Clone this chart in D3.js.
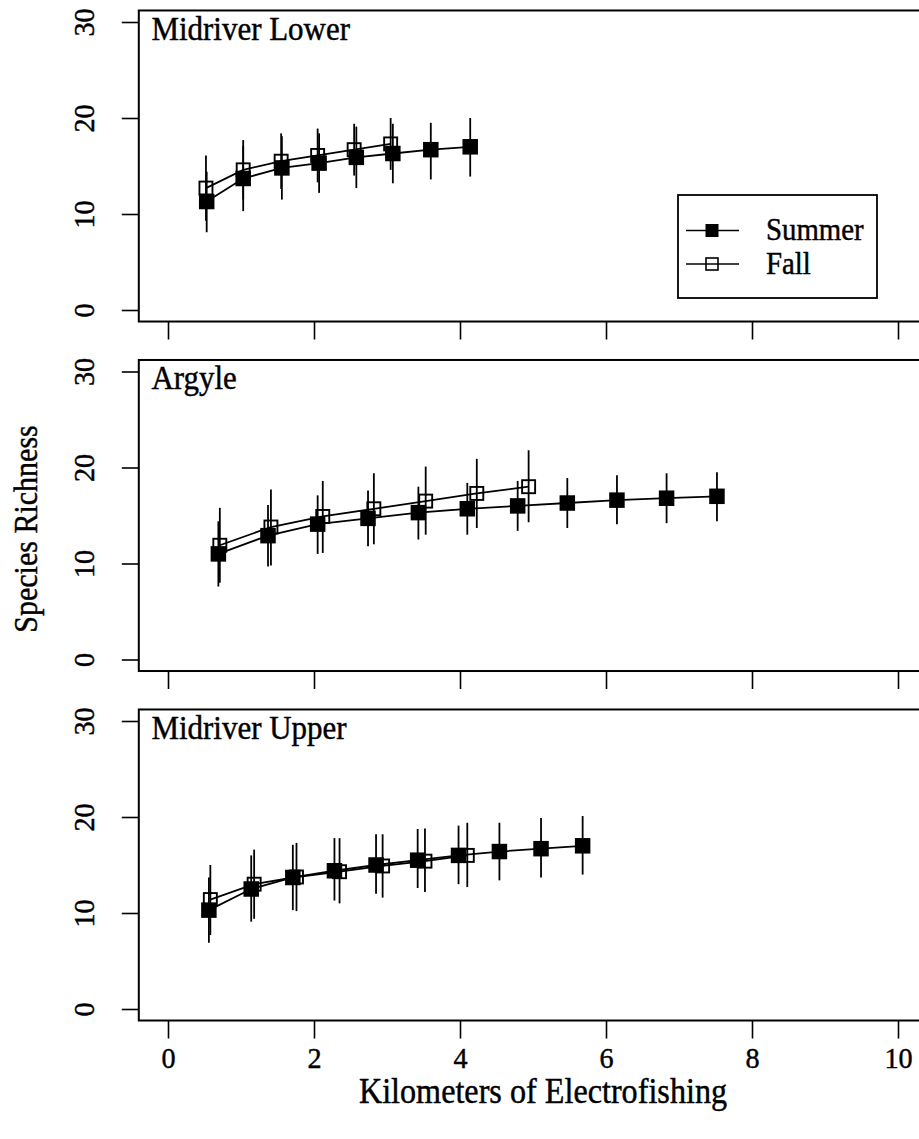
<!DOCTYPE html>
<html><head><meta charset="utf-8">
<script src="https://cdn.jsdelivr.net/npm/d3@7"></script>
<style>html,body{margin:0;padding:0;background:#fff;}svg{display:block;} text{stroke:#000;stroke-width:0.45px;}</style>
</head><body>
<svg id="chart" width="919" height="1139"></svg>
<script>
const xTicks = [0, 2, 4, 6, 8, 10];
const yTicks = [0, 10, 20, 30];
const panelNames = ["Midriver Lower", "Argyle", "Midriver Upper"];
const seriesNames = ["Summer", "Fall"];

// Midriver Lower
const summerX1 = [0.53, 1.03, 1.56, 2.07, 2.58, 3.08, 3.60, 4.14];
const summerY1 = [11.3, 13.7, 14.8, 15.3, 15.9, 16.3, 16.7, 17.0];
const summerLo1 = [8.1, 10.3, 11.5, 12.2, 12.7, 13.2, 13.6, 13.9];
const summerHi1 = [14.4, 17.1, 18.1, 18.4, 19.1, 19.4, 19.5, 20.0];
const fallX1 = [0.52, 1.03, 1.55, 2.05, 2.55, 3.05];
const fallY1 = [12.7, 14.6, 15.5, 16.1, 16.7, 17.3];
const fallLo1 = [9.3, 11.5, 12.6, 13.3, 14.0, 14.6];
const fallHi1 = [16.1, 17.7, 18.4, 18.9, 19.4, 20.0];

// Argyle
const summerX2 = [0.69, 1.37, 2.05, 2.74, 3.43, 4.10, 4.79, 5.47, 6.15, 6.83, 7.52];
const summerY2 = [11.0, 12.9, 14.1, 14.7, 15.3, 15.7, 16.0, 16.3, 16.6, 16.8, 17.0];
const summerLo2 = [7.6, 9.7, 11.0, 11.8, 12.5, 13.0, 13.4, 13.7, 14.1, 14.2, 14.4];
const summerHi2 = [14.4, 16.1, 17.1, 17.6, 18.0, 18.4, 18.6, 18.9, 19.2, 19.4, 19.5];
const fallX2 = [0.71, 1.41, 2.12, 2.82, 3.53, 4.23, 4.94];
const fallY2 = [11.9, 13.8, 14.9, 15.7, 16.5, 17.3, 18.0];
const fallLo2 = [8.0, 9.8, 11.1, 12.0, 13.0, 13.7, 14.3];
const fallHi2 = [15.8, 17.7, 18.6, 19.4, 20.1, 20.9, 21.8];

// Midriver Upper
const summerX3 = [0.56, 1.14, 1.71, 2.28, 2.85, 3.42, 3.98, 4.54, 5.11, 5.68];
const summerY3 = [10.3, 12.5, 13.7, 14.4, 15.0, 15.5, 16.0, 16.4, 16.7, 17.0];
const summerLo3 = [6.9, 9.1, 10.3, 11.3, 12.0, 12.6, 13.0, 13.4, 13.7, 14.0];
const summerHi3 = [13.7, 16.0, 17.1, 17.8, 18.2, 18.75, 19.1, 19.4, 19.9, 20.1];
const fallX3 = [0.58, 1.18, 1.76, 2.35, 2.94, 3.52, 4.10];
const fallY3 = [11.4, 13.0, 13.75, 14.3, 14.9, 15.4, 16.0];
const fallLo3 = [7.7, 9.4, 10.2, 11.0, 11.6, 12.2, 12.7];
const fallHi3 = [15.0, 16.6, 17.3, 17.8, 18.2, 18.8, 19.4];

const panels = [
  {name: panelNames[0], s: [summerX1, summerY1, summerLo1, summerHi1], f: [fallX1, fallY1, fallLo1, fallHi1]},
  {name: panelNames[1], s: [summerX2, summerY2, summerLo2, summerHi2], f: [fallX2, fallY2, fallLo2, fallHi2]},
  {name: panelNames[2], s: [summerX3, summerY3, summerLo3, summerHi3], f: [fallX3, fallY3, fallLo3, fallHi3]}
];

const FONT = "'Liberation Serif','Times New Roman','DejaVu Serif',serif";
const svg = d3.select("#chart");
const x = d3.scaleLinear().domain([0, 10]).range([168, 898]);
const panelStep = 349.5;
const LW = 1.8;

function toPts(arr) {
  const [xs, ys, lo, hi] = arr;
  return xs.map((v, i) => ({x: v, y: ys[i], lo: lo[i], hi: hi[i]}));
}

panels.forEach((p, i) => {
  const off = i * panelStep;
  const y = d3.scaleLinear().domain([0, 30]).range([310 + off, 22 + off]);
  const g = svg.append("g");

  // box
  g.append("rect")
    .attr("x", x(-0.4)).attr("y", y(31.2))
    .attr("width", x(10.4) - x(-0.4)).attr("height", y(-1.2) - y(31.2))
    .attr("fill", "none").attr("stroke", "#000").attr("stroke-width", 2);

  // y axis
  const ya = g.append("g").attr("transform", `translate(${x(-0.4)},0)`)
    .call(d3.axisLeft(y).tickValues(yTicks).tickSize(17).tickFormat(d3.format("d")));
  ya.select(".domain").remove();
  ya.selectAll("line").attr("stroke", "#000").attr("stroke-width", 1.6);
  ya.selectAll("text")
    .attr("transform", "rotate(-90) translate(0,-45) scale(0.94,1)")
    .attr("x", 0).attr("y", 0).attr("dy", 0)
    .attr("text-anchor", "middle")
    .style("font-family", FONT).style("font-size", "30px").attr("fill", "#000");

  // x axis
  const xa = g.append("g").attr("transform", `translate(0,${y(-1.2)})`)
    .call(d3.axisBottom(x).tickValues(xTicks).tickSize(18).tickFormat(d3.format("d")));
  xa.select(".domain").remove();
  xa.selectAll("line").attr("stroke", "#000").attr("stroke-width", 1.6);
  if (i === panels.length - 1) {
    xa.selectAll("text").attr("y", 0).attr("dy", 0)
      .attr("transform", "translate(0,47) scale(0.94,1)")
      .style("font-family", FONT).style("font-size", "30px").attr("fill", "#000");
  } else {
    xa.selectAll("text").remove();
  }

  // title
  g.append("text").attr("transform", `translate(151.5,${y(31.2) + 29.5}) scale(0.91,1)`)
    .style("font-family", FONT).style("font-size", "34px").text(p.name);

  const sPts = toPts(p.s), fPts = toPts(p.f);
  const line = d3.line().x(d => x(d.x)).y(d => y(d.y));

  // error bars
  [fPts, sPts].forEach(pts => {
    g.selectAll(null).data(pts).enter().append("line")
      .attr("x1", d => x(d.x)).attr("x2", d => x(d.x))
      .attr("y1", d => y(d.lo)).attr("y2", d => y(d.hi))
      .attr("stroke", "#000").attr("stroke-width", LW);
  });

  // lines
  g.append("path").datum(fPts).attr("d", line).attr("fill", "none").attr("stroke", "#000").attr("stroke-width", LW);
  g.append("path").datum(sPts).attr("d", line).attr("fill", "none").attr("stroke", "#000").attr("stroke-width", LW);

  // fall markers (hollow)
  const hs = 13;
  g.selectAll(null).data(fPts).enter().append("rect")
    .attr("x", d => x(d.x) - hs / 2).attr("y", d => y(d.y) - hs / 2)
    .attr("width", hs).attr("height", hs)
    .attr("fill", "none").attr("stroke", "#000").attr("stroke-width", 1.9);
  // summer markers (filled)
  const fs = 15.5;
  g.selectAll(null).data(sPts).enter().append("rect")
    .attr("x", d => x(d.x) - fs / 2).attr("y", d => y(d.y) - fs / 2)
    .attr("width", fs).attr("height", fs).attr("fill", "#000");
});

// legend
const lg = svg.append("g");
lg.append("rect").attr("x", 678).attr("y", 195).attr("width", 199).attr("height", 103)
  .attr("fill", "#fff").attr("stroke", "#000").attr("stroke-width", 1.8);
const legRows = [230.5, 264];
seriesNames.forEach((name, k) => {
  const ly = legRows[k];
  lg.append("line").attr("x1", 686).attr("x2", 739).attr("y1", ly).attr("y2", ly)
    .attr("stroke", "#000").attr("stroke-width", 1.6);
  if (k === 0) {
    lg.append("rect").attr("x", 712 - 6.5).attr("y", ly - 6.5).attr("width", 13).attr("height", 13).attr("fill", "#000");
  } else {
    lg.append("rect").attr("x", 712 - 6).attr("y", ly - 6).attr("width", 12).attr("height", 12)
      .attr("fill", "none").attr("stroke", "#000").attr("stroke-width", 1.6);
  }
  lg.append("text").attr("transform", `translate(766,${ly + 9.5}) scale(0.93,1)`)
    .style("font-family", FONT).style("font-size", "31px").text(name);
});

// axis titles
svg.append("text").attr("transform", "translate(543,1103) scale(0.92,1)").attr("text-anchor", "middle")
  .style("font-family", FONT).style("font-size", "35px").text("Kilometers of Electrofishing");
svg.append("text").attr("transform", "translate(37,529) rotate(-90) scale(0.91,1)").attr("text-anchor", "middle")
  .style("font-family", FONT).style("font-size", "33px").text("Species Richness");
</script>
</body></html>
